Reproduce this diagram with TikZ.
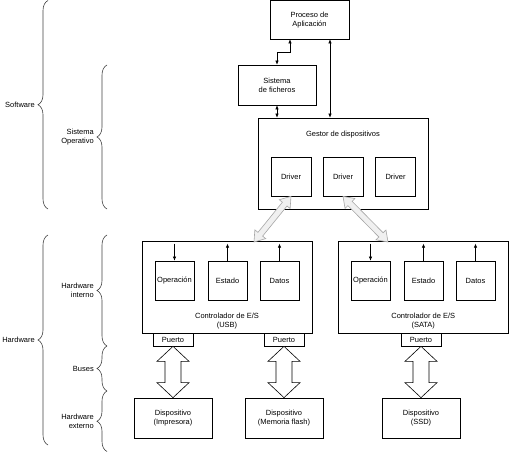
\documentclass[tikz,border=0pt]{standalone}
\usepackage{fontspec}
\setmainfont{Liberation Sans}
\usetikzlibrary{calc,arrows.meta,decorations.pathreplacing}

\tikzset{
  box/.style={draw, line width=.7pt, inner sep=0pt, align=center},
  txt/.style={inner sep=0pt, align=center},
  lbl/.style={inner sep=0pt, align=right, anchor=east},
  layer/.style={draw=black!75, line width=.6pt, decorate, decoration={brace, amplitude=10pt}},
  both/.style={{Latex[length=4pt,width=3.5pt]}-{Latex[length=4pt,width=3.5pt]}, line width=.6pt},
  one/.style={-{Latex[length=4pt,width=3.5pt]}, line width=.6pt},
  bus/.style={draw=black, fill=white, line width=.6pt},
  link/.style={draw=gray!70, fill=gray!12, line width=.6pt}
}

% hollow double arrow: style, from, to, half shaft, half head, head length
\newcommand\fatarrow[6]{%
  \draw[#1] (#2)
    -- ($(#2)!#6!(#3)!#5!90:(#3)$) -- ($(#2)!#6!(#3)!#4!90:(#3)$)
    -- ($(#3)!#6!(#2)!#4!-90:(#2)$) -- ($(#3)!#6!(#2)!#5!-90:(#2)$)
    -- (#3)
    -- ($(#3)!#6!(#2)!#5!90:(#2)$) -- ($(#3)!#6!(#2)!#4!90:(#2)$)
    -- ($(#2)!#6!(#3)!#4!-90:(#3)$) -- ($(#2)!#6!(#3)!#5!-90:(#3)$)
    -- cycle;}

\begin{document}
\begin{tikzpicture}[x=1pt,y=-1pt,font=\fontsize{7.5}{9}\selectfont]
\useasboundingbox (0,0) rectangle (509,452);

%software
\node[box, minimum width=79, minimum height=38.5] (app) at (309.5,19.75) {Proceso de\\Aplicación};
\node[box, minimum width=78, minimum height=40] (fs) at (277,85) {Sistema\\de ficheros};
\node[box, minimum width=170, minimum height=91] (gestor) at (343,163.5) {};
\node[txt] (gestorlbl) at (343,135) {Gestor de dispositivos};
\node[box, minimum width=40, minimum height=39] (drvA) at (291,176.5) {Driver};
\node[box, minimum width=40, minimum height=39] (drvB) at (343,176.5) {Driver};
\node[box, minimum width=40, minimum height=39] (drvC) at (395.5,176.5) {Driver};

\draw[both] ([xshift=-19.5pt]app.south) -- ++(0,13) -| (fs.north); %app - ficheros
\draw[both] (fs.south) -- (fs.south |- gestor.north); %ficheros - gestor
\coordinate (appout) at ([xshift=20.5pt]app.south);
\draw[both] (appout) -- (appout |- gestor.north); %app - gestor

%controlador USB
\node[box, minimum width=170, minimum height=92] (ctrlA) at (227,287) {};
\node[txt] (ctrlAlbl) at (227,321) {Controlador de E/S\\(USB)};
\node[box, minimum width=39, minimum height=39] (opA) at (174.5,280.5) {Operación};
\node[box, minimum width=39, minimum height=39] (stA) at (227.5,280.5) {Estado};
\node[box, minimum width=39, minimum height=39] (daA) at (279.5,280.5) {Datos};
\node[box, minimum width=40, minimum height=13] (puA) at (173,339.5) {Puerto};
\node[box, minimum width=40, minimum height=13] (puB) at (284,339.5) {Puerto};

%controlador SATA
\node[box, minimum width=170.5, minimum height=92] (ctrlB) at (423.25,287) {};
\node[txt] (ctrlBlbl) at (423.25,321) {Controlador de E/S\\(SATA)};
\node[box, minimum width=39, minimum height=39] (opB) at (370.5,280.5) {Operación};
\node[box, minimum width=39, minimum height=39] (stB) at (423.5,280.5) {Estado};
\node[box, minimum width=39, minimum height=39] (daB) at (475.5,280.5) {Datos};
\node[box, minimum width=40, minimum height=13] (puC) at (421,339.5) {Puerto};

\draw[one] (opA.north) ++(0,-17) -- (opA.north);
\draw[one] (stA.north) -- ++(0,-17);
\draw[one] (daA.north) -- ++(0,-17);
\draw[one] (opB.north) ++(0,-17) -- (opB.north);
\draw[one] (stB.north) -- ++(0,-17);
\draw[one] (daB.north) -- ++(0,-17);

%dispositivos
\node[box, minimum width=78, minimum height=40] (devA) at (173,418) {Dispositivo\\(Impresora)};
\node[box, minimum width=78, minimum height=40] (devB) at (284,418) {Dispositivo\\(Memoria flash)};
\node[box, minimum width=78, minimum height=40] (devC) at (421,418) {Dispositivo\\(SSD)};

\fatarrow{bus}{puA.south}{devA.north}{8pt}{16pt}{15pt}
\fatarrow{bus}{puB.south}{devB.north}{8pt}{16pt}{15pt}
\fatarrow{bus}{puC.south}{devC.north}{8pt}{16pt}{15pt}

\coordinate (usbin) at (254,242);
\coordinate (satain) at (388,242);
\fatarrow{link}{drvA.south}{usbin}{3pt}{7pt}{10pt}
\fatarrow{link}{drvB.south}{satain}{3pt}{7pt}{10pt}

%capas
\draw[layer] (48,209) -- (48,0.5);
\node[lbl] (sw) at (35,104.5) {Software};
\draw[layer] (107,209) -- (107,65);
\node[lbl] (so) at (94,137) {Sistema\\Operativo};
\draw[layer] (48,445) -- (48,235);
\node[lbl] (hw) at (35,340) {Hardware};
\draw[layer] (107,346) -- (107,235);
\node[lbl] (hwi) at (94,290.5) {Hardware\\interno};
\draw[layer] (107,391) -- (107,346);
\node[lbl] (bus) at (94,368.5) {Buses};
\draw[layer] (107,451.5) -- (107,391);
\node[lbl] (hwe) at (94,421.5) {Hardware\\externo};
\end{tikzpicture}
\end{document}
